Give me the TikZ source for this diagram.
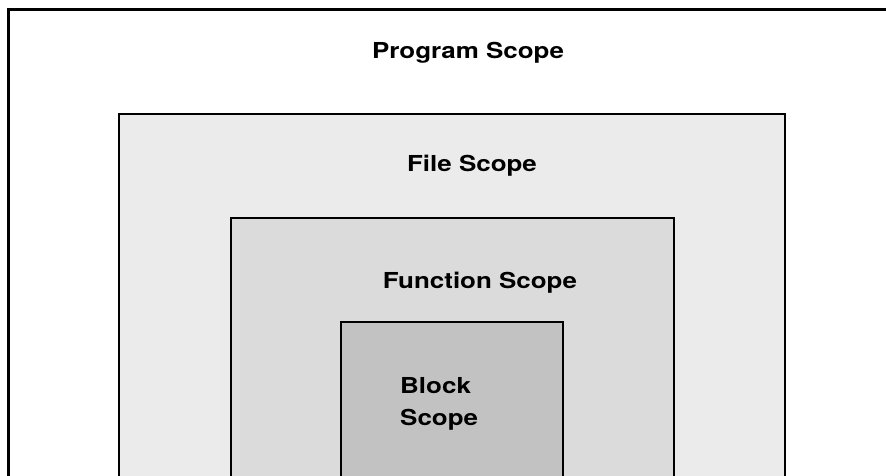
\documentclass[tikz,border=0pt]{standalone}
\usepackage{fontspec}
\newfontfamily\labfont[FakeStretch=1.18]{TeX Gyre Heros}
\begin{document}
\begin{tikzpicture}[x=1pt,y=-1pt,
  boxline/.style={draw=black,line width=2.2pt},
  outerline/.style={draw=black,line width=3pt},
  lab/.style={inner sep=0pt,font=\labfont\bfseries\fontsize{22}{26}\selectfont}]
\useasboundingbox (0,0) rectangle (886,476);
\fill[white] (0,0) rectangle (886,476);
% boxes (open at the bottom)
\fill[black!8] (119,114) rectangle (785,477);
\fill[black!14] (231,218) rectangle (674,477);
\fill[black!24] (341,322) rectangle (563,477);
\draw[outerline] (8,477) -- (8,10) -- (887,10);
\draw[boxline] (119,477) -- (119,114) -- (785,114) -- (785,477);
\draw[boxline] (231,477) -- (231,218) -- (674,218) -- (674,477);
\draw[boxline] (341,477) -- (341,322) -- (563,322) -- (563,477);
% labels
\node[lab,anchor=base] (program) at (468,59) {Program Scope};
\node[lab,anchor=base] (file) at (472,171.5) {File Scope};
\node[lab,anchor=base] (function) at (480,288) {Function Scope};
\node[lab,anchor=base west] (blockA) at (400,393) {Block};
\node[lab,anchor=base west] (blockB) at (400,425) {Scope};
\end{tikzpicture}
\end{document}
